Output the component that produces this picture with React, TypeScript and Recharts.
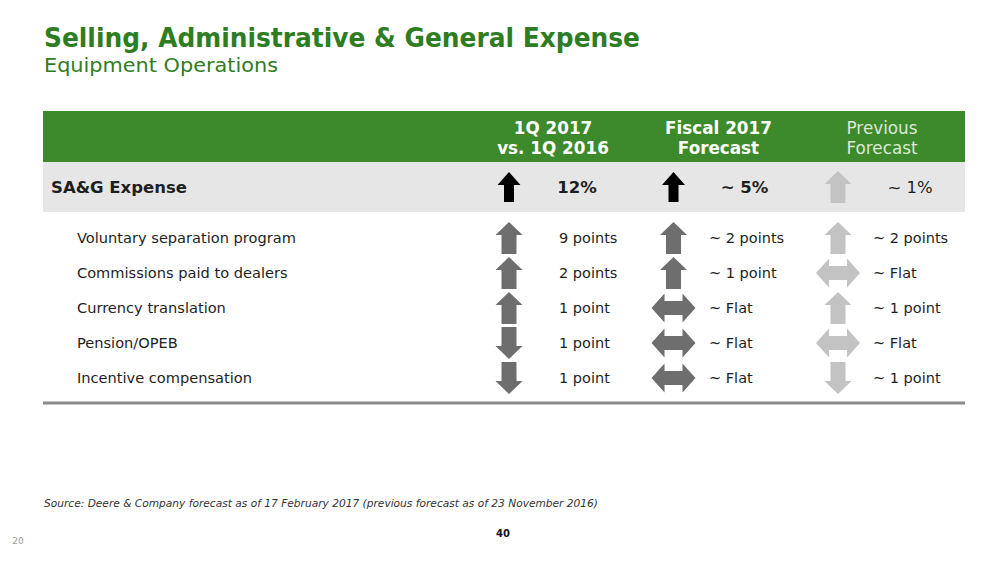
import React from 'react';
import { ComposedChart, Scatter, XAxis, YAxis, ReferenceArea, ReferenceLine, Customized } from 'recharts';

// ---------- data ----------
const titleText = 'Selling, Administrative & General Expense';
const subtitleText = 'Equipment Operations';
const sourceText = 'Source: Deere & Company forecast as of 17 February 2017 (previous forecast as of 23 November 2016)';
const pageNumber = '40';
const slideNumber = '20';

const columnHeaders = [
  ['1Q 2017', 'vs. 1Q 2016'],
  ['Fiscal 2017', 'Forecast'],
  ['Previous', 'Forecast'],
];

const summaryLabel = 'SA&G Expense';
const summaryDirections = ['up', 'up', 'up'];
const summaryValues = ['12%', '~ 5%', '~ 1%'];

const rowLabels = [
  'Voluntary separation program',
  'Commissions paid to dealers',
  'Currency translation',
  'Pension/OPEB',
  'Incentive compensation',
];
const q1Directions = ['up', 'up', 'up', 'down', 'down'];
const q1Values = ['9 points', '2 points', '1 point', '1 point', '1 point'];
const fiscalDirections = ['up', 'up', 'flat', 'flat', 'flat'];
const fiscalValues = ['~ 2 points', '~ 1 point', '~ Flat', '~ Flat', '~ Flat'];
const previousDirections = ['up', 'flat', 'up', 'flat', 'down'];
const previousValues = ['~ 2 points', '~ Flat', '~ 1 point', '~ Flat', '~ 1 point'];

// ---------- layout ----------
const W = 1008;
const H = 567;
const BOX_LEFT = 43;
const BOX_RIGHT = 965;
const BOX_TOP = 111;
const BOX_BOTTOM = 403;
const COL_PX = 164.5;
const COL0_PX = 509;
const ROW_PX = 35;
const ROW0_PX = 238;
const HEADER_BOTTOM_PX = 162;
const SUMMARY_BOTTOM_PX = 212;

const toX = (px: number) => (px - COL0_PX) / COL_PX;
const toY = (px: number) => (px - ROW0_PX) / ROW_PX;
const X_MIN = toX(BOX_LEFT);
const X_MAX = toX(BOX_RIGHT);
const Y_MIN = toY(BOX_TOP);
const Y_MAX = toY(BOX_BOTTOM);
const HEADER_ROW = toY((BOX_TOP + HEADER_BOTTOM_PX) / 2);
const SUMMARY_ROW = toY((HEADER_BOTTOM_PX + SUMMARY_BOTTOM_PX) / 2);

const FONT = '"DejaVu Sans", Verdana, sans-serif';
const GREEN_TITLE = '#2f7d22';
const GREEN_BAND = '#3c8a2c';
const GREY_BAND = '#e6e6e6';
const DARK_ARROW = '#6e6e6e';
const LIGHT_ARROW = '#c3c3c3';
const TEXT = '#1e1e1e';

const detailValueOffset = [50, 35.5, 35];
const summaryValueOffset = [68, 71, 72];
const detailTone = [DARK_ARROW, DARK_ARROW, LIGHT_ARROW];
const summaryTone = ['#000000', '#000000', LIGHT_ARROW];
const summaryBold = [true, true, false];

// ---------- derived chart data ----------
const detailColumns = [
  { dirs: q1Directions, vals: q1Values },
  { dirs: fiscalDirections, vals: fiscalValues },
  { dirs: previousDirections, vals: previousValues },
];

const cellData = detailColumns.flatMap((c, col) =>
  c.dirs.map((d, row) => ({ x: col, y: row, dir: d, value: c.vals[row], col, kind: 'detail' }))
).concat(
  summaryDirections.map((d, col) => ({ x: col, y: SUMMARY_ROW, dir: d, value: summaryValues[col], col, kind: 'summary' }))
);

const labelData = rowLabels
  .map((l, row) => ({ x: X_MIN, y: row, label: l, kind: 'detail' }))
  .concat([{ x: X_MIN, y: SUMMARY_ROW, label: summaryLabel, kind: 'summary' }]);

const headerData = columnHeaders.map((lines, col) => ({ x: col, y: HEADER_ROW, lines, col }));

// ---------- shapes ----------
function arrowPoints(dir: string, cx: number, cy: number, big: boolean) {
  if (dir === 'flat') {
    const w = 44, h = 29, head = 13, shaft = 14;
    const l = cx - w / 2, r = cx + w / 2;
    return [
      [l, cy], [l + head, cy - h / 2], [l + head, cy - shaft / 2], [r - head, cy - shaft / 2],
      [r - head, cy - h / 2], [r, cy], [r - head, cy + h / 2], [r - head, cy + shaft / 2],
      [l + head, cy + shaft / 2], [l + head, cy + h / 2],
    ];
  }
  const w = big ? 23 : 27;
  const h = big ? 30 : 32;
  const head = 13;
  const shaft = big ? 10 : 15;
  const s = dir === 'up' ? 1 : -1;
  const tip = cy - (s * h) / 2;
  const base = cy + (s * h) / 2;
  const neck = tip + s * head;
  return [
    [cx, tip], [cx + w / 2, neck], [cx + shaft / 2, neck], [cx + shaft / 2, base],
    [cx - shaft / 2, base], [cx - shaft / 2, neck], [cx - w / 2, neck],
  ];
}

const CellShape = (props: any) => {
  const { cx, cy, payload } = props;
  const isSummary = payload.kind === 'summary';
  const color = isSummary ? summaryTone[payload.col] : detailTone[payload.col];
  const pts = arrowPoints(payload.dir, cx, cy, isSummary && payload.col < 2)
    .map((p) => p.join(','))
    .join(' ');
  return (
    <g>
      <polygon points={pts} fill={color} />
      {isSummary ? (
        <text
          x={cx + summaryValueOffset[payload.col]}
          y={cy + 6}
          textAnchor="middle"
          fontFamily={FONT}
          fontSize={16.5}
          fontWeight={summaryBold[payload.col] ? 'bold' : 'normal'}
          fill={TEXT}
        >
          {payload.value}
        </text>
      ) : (
        <text
          x={cx + detailValueOffset[payload.col]}
          y={cy + 5}
          textAnchor="start"
          fontFamily={FONT}
          fontSize={14.5}
          fill={TEXT}
        >
          {payload.value}
        </text>
      )}
    </g>
  );
};

const LabelShape = (props: any) => {
  const { cx, cy, payload } = props;
  const isSummary = payload.kind === 'summary';
  return (
    <text
      x={cx + (isSummary ? 8 : 34)}
      y={cy + (isSummary ? 6 : 5)}
      fontFamily={FONT}
      fontSize={isSummary ? 16.5 : 14.6}
      fontWeight={isSummary ? 'bold' : 'normal'}
      fill={TEXT}
    >
      {payload.label}
    </text>
  );
};

const headerOffset = [44, 45, 44];
const HeaderShape = (props: any) => {
  const { cx, cy, payload } = props;
  const prev = payload.col === 2;
  return (
    <g>
      {payload.lines.map((line: string, i: number) => (
        <text
          key={i}
          x={cx + headerOffset[payload.col]}
          y={cy - 2.5 + i * 20}
          textAnchor="middle"
          fontFamily={FONT}
          fontSize={16.8}
          fontWeight={prev ? 'normal' : 'bold'}
          fill={prev ? '#dde8d8' : '#ffffff'}
        >
          {line}
        </text>
      ))}
    </g>
  );
};

const Decorations = () => (
  <g>
    <text x={44} y={47} fontFamily={FONT} fontWeight="bold" fontSize={26} fill={GREEN_TITLE} textLength={596} lengthAdjust="spacingAndGlyphs">
      {titleText}
    </text>
    <text x={44} y={72} fontFamily={FONT} fontSize={20} fill={GREEN_TITLE} textLength={234} lengthAdjust="spacingAndGlyphs">
      {subtitleText}
    </text>
    <text x={44} y={507} fontFamily={FONT} fontStyle="italic" fontSize={11} fill="#333333" textLength={554} lengthAdjust="spacingAndGlyphs">
      {sourceText}
    </text>
    <text x={503} y={537} textAnchor="middle" fontFamily={FONT} fontWeight="bold" fontSize={10} fill="#111111">
      {pageNumber}
    </text>
    <text x={18} y={544} textAnchor="middle" fontFamily={FONT} fontSize={9} fill="#9a9a9a">
      {slideNumber}
    </text>
  </g>
);

export default function App() {
  return (
    <div style={{ position: 'absolute', left: 0, top: 0, width: W, height: H, background: '#ffffff' }}>
      <ComposedChart
        width={W}
        height={H}
        margin={{ top: BOX_TOP, bottom: H - BOX_BOTTOM, left: BOX_LEFT, right: W - BOX_RIGHT }}
      >
        <XAxis type="number" dataKey="x" domain={[X_MIN, X_MAX]} hide allowDataOverflow />
        <YAxis type="number" dataKey="y" domain={[Y_MIN, Y_MAX]} reversed hide allowDataOverflow />
        <ReferenceArea y1={Y_MIN} y2={toY(HEADER_BOTTOM_PX)} fill={GREEN_BAND} fillOpacity={1} stroke="none" />
        <ReferenceArea y1={toY(HEADER_BOTTOM_PX)} y2={toY(SUMMARY_BOTTOM_PX)} fill={GREY_BAND} fillOpacity={1} stroke="none" />
        <ReferenceLine y={Y_MAX} stroke="#8a8a8a" strokeWidth={3} />
        <Scatter data={headerData} shape={HeaderShape} isAnimationActive={false} />
        <Scatter data={labelData} shape={LabelShape} isAnimationActive={false} />
        <Scatter data={cellData} shape={CellShape} isAnimationActive={false} />
        <Customized component={Decorations} />
      </ComposedChart>
    </div>
  );
}
